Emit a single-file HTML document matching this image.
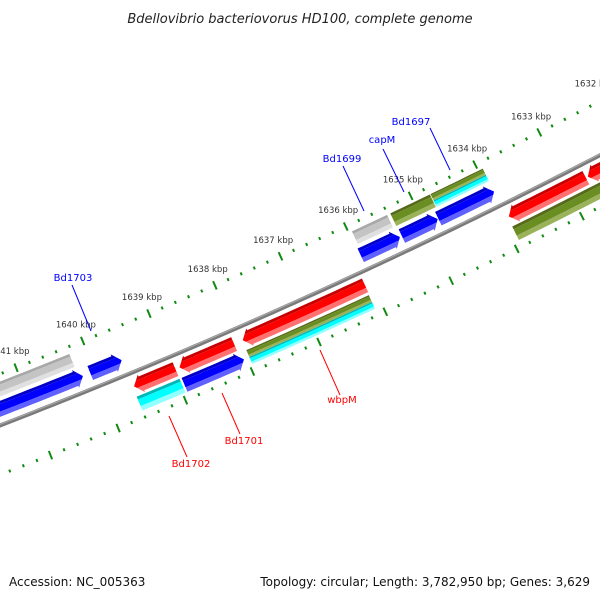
<!DOCTYPE html>
<html><head><meta charset="utf-8"><style>
html,body{margin:0;padding:0;background:#fff;}
svg{display:block;}
text{font-family:"DejaVu Sans","Liberation Sans",sans-serif;}
</style></head><body>
<svg id="map" width="600" height="600" viewBox="0 0 600 600" xmlns="http://www.w3.org/2000/svg">
<rect width="600" height="600" fill="#fff"/>
<text x="300" y="23" text-anchor="middle" font-size="13" font-style="italic" fill="#222">Bdellovibrio bacteriovorus HD100, complete genome</text>
<text x="9" y="586" font-size="12" fill="#111">Accession: NC_005363</text>
<text x="590" y="586" text-anchor="end" font-size="12" fill="#111">Topology: circular; Length: 3,782,950 bp; Genes: 3,629</text>
<g id="ticks"></g>
<g id="backbone"></g>
<g id="features"></g>
<g id="labels"></g>
</svg>
<script>
// feature data (positions in kbp)
const featStart = [1640.24,1635.41,1634.75,1633.93,1633.93,1640.18,1639.60,1635.38,1634.80,1633.93,1638.96,1638.08,1636.10,1632.71,1631.0,1638.96,1638.04,1636.11,1636.11,1631.0];
const featEnd   = [1643.0,1635.95,1635.36,1634.74,1634.74,1643.0,1640.07,1635.98,1635.35,1634.79,1639.58,1638.90,1637.95,1633.90,1632.68,1639.60,1638.93,1637.96,1637.96,1633.92];
const featRow   = ['u1','u1','u1','u1t','u1b','u2','u2','u2','u2','u2','lA','lA','lA','lA','lA','lB','lB','lBt','lBb','lB'];
const featColor = ['gray','gray','olive','olive','cyan','blue','blue','blue','blue','blue','red','red','red','red','red','cyan','blue','olive','cyan','olive'];
const featDir   = [0,0,0,0,0,-1,-1,-1,-1,-1,1,1,1,1,1,0,-1,0,0,0];
const tickMajor = [1632,1633,1634,1635,1636,1637,1638,1639,1640,1641,1642];
const tickLabels = ['1632 kbp','1633 kbp','1634 kbp','1635 kbp','1636 kbp','1637 kbp','1638 kbp','1639 kbp','1640 kbp','1641 kbp','1642 kbp'];
const geneNames = ['Bd1703','Bd1699','capM','Bd1697','wbpM','Bd1701','Bd1702'];
const geneColors = ['#0000ff','#0000ff','#0000ff','#0000ff','#ff0000','#ff0000','#ff0000'];

const CX=-2180, CY=-5216, A0=65.79, DEG=0.685;
function P(k,r){const t=(A0+(k-1637)*DEG)*Math.PI/180;return [CX+r*Math.cos(t),CY+r*Math.sin(t)];}
const rows={u1:[6007,6021],u1t:[6007,6014],u1b:[6014,6021],u2:[6025,6040],lA:[6054,6069],lB:[6072,6087],lBt:[6072,6079.5],lBb:[6079.5,6087]};
const pal={red:['#c80000','#ff0000','#ff7070'],blue:['#0000c8','#0000ff','#6060ff'],gray:['#a8a8a8','#c4c4c4','#e0e0e0'],olive:['#556b1a','#6b8e23','#9ab35a'],cyan:['#00b8b8','#00ffff','#90ffff']};
const NS='http://www.w3.org/2000/svg';
function mk(tag,parent){const e=document.createElementNS(NS,tag);parent.appendChild(e);return e;}
function arcPts(k1,k2,r){const pts=[];const n=Math.max(2,Math.ceil(Math.abs(k2-k1)*10));for(let i=0;i<=n;i++){pts.push(P(k1+(k2-k1)*i/n,r));}return pts;}
function ptsStr(a){return a.map(p=>p[0].toFixed(2)+','+p[1].toFixed(2)).join(' ');}

// ticks
const tg=document.getElementById('ticks');
[6000,6094].forEach((R,ri)=>{
  for(let k=1630.0;k<=1644.001;k+=0.2){
    const kk=Math.round(k*10)/10;
    const major=Math.abs(kk-Math.round(kk))<1e-6;
    const h=major?4.5:1.5;
    const a=P(kk,R-h),b=P(kk,R+h);
    const l=mk('line',tg);
    
    
    l.setAttribute('x1',a[0]);l.setAttribute('y1',a[1]);l.setAttribute('x2',b[0]);l.setAttribute('y2',b[1]);
    l.setAttribute('stroke','#118a11');l.setAttribute('stroke-width','2');
  }
});
tickMajor.forEach((k,i)=>{
  const p=P(k,5982);
  const t=mk('text',tg);
  
  
  t.setAttribute('x',p[0]);t.setAttribute('y',p[1]+3);t.setAttribute('text-anchor','middle');
  t.setAttribute('font-size','8.5');t.setAttribute('fill','#333');
  t.textContent=tickLabels[i];
});

// backbone
const bg=document.getElementById('backbone');
const bb=mk('polyline',bg);


bb.setAttribute('points',ptsStr(arcPts(1630,1644,6048)));bb.setAttribute('fill','none');bb.setAttribute('stroke','#7a7a7a');bb.setAttribute('stroke-width','4');
const bb2=mk('polyline',bg);


bb2.setAttribute('points',ptsStr(arcPts(1630,1644,6047)));bb2.setAttribute('fill','none');bb2.setAttribute('stroke','#a8a8a8');bb2.setAttribute('stroke-width','1.2');

// features
const fg=document.getElementById('features');
const defs=mk('defs',document.getElementById('map'));
featStart.forEach((s,i)=>{
  const e=featEnd[i],[r1,r2]=rows[featRow[i]],d=featDir[i],rm=(r1+r2)/2,H=0.11;
  let outline;
  if(d===0){outline=arcPts(s,e,r1).concat(arcPts(e,s,r2));}
  else if(d>0){ // tip at end (higher kbp)
    const hb=Math.max(s,e-H);
    outline=arcPts(s,hb,r1).concat([P(hb,r1-2),P(e,rm),P(hb,r2+2)]).concat(arcPts(hb,s,r2));
  } else { // tip at start (lower kbp)
    const hb=Math.min(e,s+H);
    outline=[P(s,rm),P(hb,r1-2)].concat(arcPts(hb,e,r1)).concat(arcPts(e,hb,r2)).concat([P(hb,r2+2)]);
  }
  const cp=mk('clipPath',defs);cp.setAttribute('id','cp'+i);
  const cpp=mk('polygon',cp);cpp.setAttribute('points',ptsStr(outline));
  const g=mk('g',fg);
  
  
  g.setAttribute('clip-path','url(#cp'+i+')');
  const c=pal[featColor[i]],h=r2-r1;
  const bands=[[r1-3,r1+h*0.2,c[0]],[r1+h*0.2,r1+h*0.68,c[1]],[r1+h*0.68,r2+3,c[2]]];
  bands.forEach(bd=>{
    const poly=mk('polygon',g);
    
    
    poly.setAttribute('points',ptsStr(arcPts(s-0.05,e+0.05,bd[0]).concat(arcPts(e+0.05,s-0.05,bd[1]))));
    poly.setAttribute('fill',bd[2]);
  });
});

// gene labels with pointer lines
const lg=document.getElementById('labels');
const labText=[[73,281],[342,162],[382,143],[411,125],[342,403],[244,444],[191,467]];
const labLine=[[72,285,91,331],[343,166,364,211],[383,149,404,192],[430,128,450,170],[320,350,340,395],[222,393,240,434],[169,416,187,457]];
geneNames.forEach((n,i)=>{
  const l=mk('line',lg);
  
  
  const q=labLine[i];
  l.setAttribute('x1',q[0]);l.setAttribute('y1',q[1]);l.setAttribute('x2',q[2]);l.setAttribute('y2',q[3]);
  l.setAttribute('stroke',geneColors[i]);l.setAttribute('stroke-width','1');
  const t=mk('text',lg);
  
  
  t.setAttribute('x',labText[i][0]);t.setAttribute('y',labText[i][1]);t.setAttribute('text-anchor','middle');
  t.setAttribute('font-size','10');t.setAttribute('fill',geneColors[i]);
  t.textContent=n;
});
</script>
</body></html>
